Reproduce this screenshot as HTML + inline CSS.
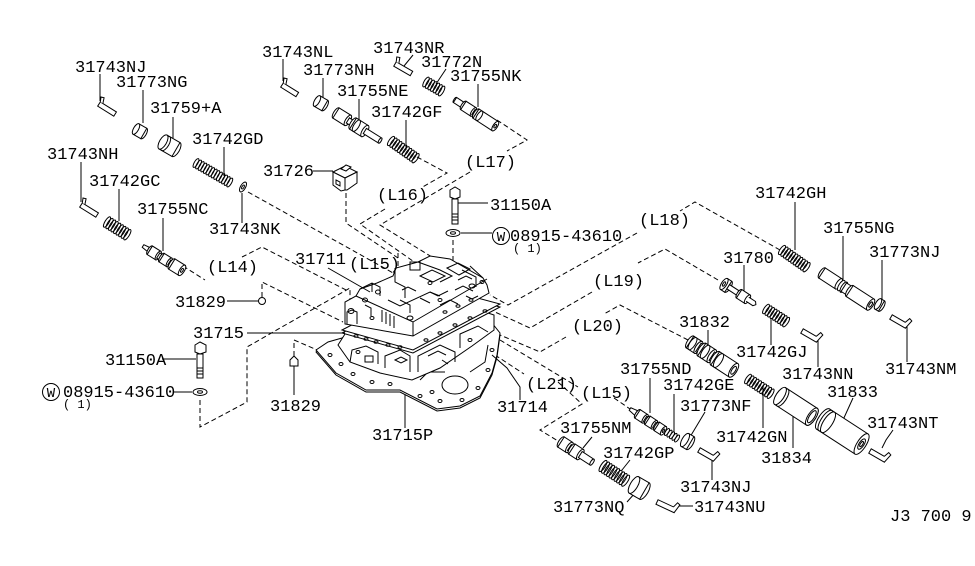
<!DOCTYPE html>
<html><head><meta charset="utf-8">
<style>
html,body{margin:0;padding:0;background:#fff;}
svg{display:block;}
text{font-family:"Liberation Mono","DejaVu Sans Mono",monospace;font-size:17px;fill:#000;}
.sm{font-size:12px;}
.p{fill:#fff;stroke:#000;stroke-width:1;}
.n{fill:none;stroke:#000;stroke-width:1;}
.d{fill:none;stroke:#000;stroke-width:1;stroke-dasharray:5 3;}
</style></head><body>
<svg width="975" height="566" viewBox="0 0 975 566" xmlns="http://www.w3.org/2000/svg">
<rect width="975" height="566" fill="#fff"/>

<!-- dashed routing lines -->
<g class="d">
<path d="M248,192 L395,274"/>
<path d="M183,266 L205,280 M242,257 L262,247 L348,291"/>
<path d="M262,297 V282 L343,322"/>
<path d="M200,400 V427 L247,402 V347 L350,288 V300"/>
<path d="M294,356 V340 L322,352"/>
<path d="M453,240 V296"/>
<path d="M346,193 V223 L398,258 M398,253 V278"/>
<path d="M417,157 L447,173 L421,188 M385,209 L360,224 L420,266"/>
<path d="M497,120 L527,140 L507,151 M470,172 L380,225 L440,262"/>
<path d="M780,250 L695,202 L680,211 M637,233 L508,305 L490,295"/>
<path d="M718,280 L665,249 L638,263 M592,292 L530,328 L495,312"/>
<path d="M688,340 L620,305 L604,314 M566,337 L540,352 L500,335"/>
<path d="M495,355 L524,374 M558,382 L582,404 L540,430 L558,441"/>
<path d="M500,340 L578,387 M614,398 L633,411"/>
</g>

<!-- valve body -->
<g class="p">
<polygon points="316,352 328,344 342,340 425,300 488,320 500,335 497,357 492,375 480,398 460,408 437,411 400,392 366,392 336,375"/>
<polygon points="316,350 328,342 342,338 425,298 488,318 500,333 497,355 492,373 480,396 460,406 437,409 400,390 366,390 336,373"/>
</g>
<g class="n">
<ellipse cx="455" cy="385" rx="13" ry="9"/>
<path d="M420,380 L428,372 L445,372 M470,372 L485,362 L488,345"/>
<ellipse cx="330" cy="355" rx="2" ry="1.5"/><ellipse cx="341" cy="364" rx="2" ry="1.5"/>
<ellipse cx="353" cy="374" rx="2" ry="1.5"/><ellipse cx="372" cy="382" rx="2" ry="1.5"/>
<ellipse cx="390" cy="384" rx="2" ry="1.5"/><ellipse cx="420" cy="396" rx="2" ry="1.5"/>
<ellipse cx="440" cy="401" rx="2" ry="1.5"/><ellipse cx="462" cy="400" rx="2" ry="1.5"/>
<ellipse cx="478" cy="388" rx="2" ry="1.5"/><ellipse cx="488" cy="370" rx="2" ry="1.5"/>
<ellipse cx="492" cy="350" rx="2" ry="1.5"/><ellipse cx="432" cy="392" rx="2" ry="1.5"/>
</g>
<g class="p">
<polygon points="338,345 345,334 428,293 494,315 494,330 472,346 440,368 412,380 380,373 350,362"/>
</g>
<g class="n">
<path d="M350,362 L352,350 L366,346 L378,352 L378,364"/>
<path d="M385,368 L385,356 L400,350 L410,356 L410,372"/>
<path d="M418,372 L418,356 L440,345 L455,352 L455,362"/>
<path d="M460,348 L460,334 L478,326 L488,332"/>
<path d="M365,356 h8 v6 h-8z M395,360 l6,-3 l6,3 l-6,3z M428,356 l10,-5 l8,4 M442,360 l6,4"/>
<ellipse cx="358" cy="352" rx="2" ry="1.5"/><ellipse cx="470" cy="340" rx="2" ry="1.5"/>
</g>
<g class="p">
<polygon points="342,333 429,288 500,307 413,353"/>
<polygon points="342,330 429,285 500,304 413,350"/>
</g>
<g class="n">
<ellipse cx="356" cy="336" rx="2" ry="1.3"/><ellipse cx="366" cy="339" rx="2" ry="1.3"/>
<ellipse cx="376" cy="342" rx="2" ry="1.3"/><ellipse cx="388" cy="345" rx="2" ry="1.3"/>
<ellipse cx="400" cy="347" rx="2" ry="1.3"/><ellipse cx="426" cy="340" rx="2" ry="1.3"/>
<ellipse cx="440" cy="333" rx="2" ry="1.3"/><ellipse cx="455" cy="325" rx="2" ry="1.3"/>
<ellipse cx="470" cy="318" rx="2" ry="1.3"/><ellipse cx="485" cy="311" rx="2" ry="1.3"/>
</g>
<g class="p">
<polygon points="345,324 345,302 356,296 360,289 377,283 393,276 396,268 418,262 430,256 450,259 483,278 487,285 489,293 413,336"/>
</g>
<g class="n">
<path d="M356,296 L413,322 L487,279 M413,322 V336"/>
<path d="M395,268 V282 L405,287 V298"/>
<path d="M420,276 L432,270 L445,276 L433,282 Z M447,268 L458,263 L470,269 L459,275 Z"/>
<path d="M382,310 v12 M386,312 v12 M390,314 v12 M394,316 v12"/>
<path d="M430,292 l8,4 l10,-5 M455,290 l8,-4 l10,5 M400,300 l10,5 l0,8"/>
<path d="M410,262 h10 v8 h-10z M458,280 l8,-4 l6,3"/>
<path d="M347,324 V312 L352,310 L357,312 V324"/>
<path d="M360,289 L372,283 L380,287 L380,296 M372,283 V292"/>
<path d="M388,300 L400,306 L430,292 L440,296"/>
<path d="M418,262 L440,270 L452,276 L440,282"/>
<path d="M462,270 L476,277 L476,287 M470,266 L483,278"/>
<path d="M420,298 L430,303 M440,305 L450,300 L458,304 M466,296 l6,3 l6,-3"/>
<path d="M365,305 l6,3 v8 M402,290 l6,-3 l8,4"/>
<ellipse cx="351" cy="311" rx="3" ry="2.5"/><ellipse cx="365" cy="300" rx="2.5" ry="2"/>
<ellipse cx="472" cy="286" rx="3" ry="2"/><ellipse cx="482" cy="282" rx="2" ry="1.5"/>
<ellipse cx="440" cy="300" rx="2" ry="1.5"/><ellipse cx="410" cy="318" rx="3" ry="2"/>
<ellipse cx="378" cy="292" rx="2.5" ry="2"/><ellipse cx="430" cy="283" rx="2" ry="1.5"/>
<ellipse cx="445" cy="312" rx="2" ry="1.3"/><ellipse cx="458" cy="306" rx="2" ry="1.3"/>
<ellipse cx="471" cy="300" rx="2" ry="1.3"/><ellipse cx="372" cy="318" rx="2" ry="1.5"/>
</g>

<!-- leaders -->
<g class="n">
<path d="M100,74 V101"/><path d="M143,90 V123"/><path d="M173,117 V138"/>
<path d="M224,147 V176"/><path d="M81,162 V202"/><path d="M119,189 V221"/>
<path d="M163,218 V251"/><path d="M242,193 V223"/><path d="M313,171 H333"/>
<path d="M283,59 V81"/><path d="M323,78 V100"/><path d="M413,55 L404,66"/>
<path d="M446,69 L436,84"/><path d="M478,84 V107"/><path d="M359,99 V125"/>
<path d="M406,120 V150"/><path d="M456,203 H488"/><path d="M461,233 H492"/>
<path d="M328,268 L370,292"/>
<path d="M795,202 V250"/><path d="M843,236 V283"/><path d="M882,260 V302"/>
<path d="M907,321 V362"/><path d="M744,265 V292"/><path d="M771,318 V345"/>
<path d="M818,336 V367"/><path d="M708,330 V350"/><path d="M650,378 V413"/>
<path d="M674,394 V432"/><path d="M705,412 L690,437"/><path d="M763,387 V428"/>
<path d="M793,415 V448"/><path d="M853,398 L843,420"/><path d="M893,430 L886,440 L882,448"/>
<path d="M712,455 V480"/><path d="M592,437 L583,448"/><path d="M630,460 L622,470"/>
<path d="M627,502 L635,493"/><path d="M677,506 H693"/>
<path d="M227,301 H258"/><path d="M247,333 H345"/><path d="M162,359 H196"/>
<path d="M173,392 H192"/><path d="M294,366 V395"/><path d="M405,395 V428"/>
<path d="M492,355 L507,368 L520,387 V400"/>
</g>

<!-- top-left parts -->
<g class="p" transform="translate(99,104) rotate(32)"><path d="M0,-2.5H19V2.5H0Z"/><path d="M3,-2.5 L1,-8 L-2,-7 L0,-2.5"/></g>
<g class="p" transform="translate(136,129) rotate(30)"><ellipse cx="9" rx="2.5" ry="6"/><rect x="0" y="-6" width="9" height="12"/><ellipse cx="0" rx="2.5" ry="6"/></g>
<g class="p" transform="translate(163,142) rotate(30)"><ellipse cx="15" rx="3.5" ry="8"/><rect x="0" y="-8" width="15" height="16"/><ellipse cx="3" rx="3.5" ry="8"/><ellipse cx="0" rx="3.5" ry="8"/></g>
<g class="n" transform="translate(196,163) rotate(30)">
<ellipse cx="0" rx="1.8" ry="5"/><ellipse cx="3" rx="1.8" ry="5"/><ellipse cx="6" rx="1.8" ry="5"/><ellipse cx="9" rx="1.8" ry="5"/><ellipse cx="12" rx="1.8" ry="5"/><ellipse cx="15" rx="1.8" ry="5"/><ellipse cx="18" rx="1.8" ry="5"/><ellipse cx="21" rx="1.8" ry="5"/><ellipse cx="24" rx="1.8" ry="5"/><ellipse cx="27" rx="1.8" ry="5"/><ellipse cx="30" rx="1.8" ry="5"/><ellipse cx="33" rx="1.8" ry="5"/><ellipse cx="36" rx="1.8" ry="5"/><ellipse cx="39" rx="1.8" ry="5"/></g>
<g class="p" transform="translate(243,187) rotate(30)"><ellipse rx="2.5" ry="5.5"/><ellipse rx="1" ry="2.2"/></g>
<g class="p" transform="translate(81,205) rotate(32)"><path d="M0,-2.5H19V2.5H0Z"/><path d="M3,-2.5 L1,-8 L-2,-7 L0,-2.5"/></g>
<g class="n" transform="translate(107,222) rotate(32)">
<ellipse cx="0" rx="2" ry="6"/><ellipse cx="3" rx="2" ry="6"/><ellipse cx="6" rx="2" ry="6"/><ellipse cx="9" rx="2" ry="6"/><ellipse cx="12" rx="2" ry="6"/><ellipse cx="15" rx="2" ry="6"/><ellipse cx="18" rx="2" ry="6"/><ellipse cx="21" rx="2" ry="6"/><ellipse cx="24" rx="2" ry="6"/></g>
<g class="p" transform="translate(143,246) rotate(32)">
<path d="M0,-1.5 L8,-2.5 V2.5 L0,1.5Z"/>
<ellipse cx="8" rx="2" ry="5"/><rect x="8" y="-5" width="10" height="10"/><ellipse cx="18" rx="2" ry="5"/>
<rect x="18" y="-3" width="4" height="6"/>
<ellipse cx="22" rx="2" ry="5"/><rect x="22" y="-5" width="9" height="10"/><ellipse cx="31" rx="2" ry="5"/>
<rect x="31" y="-3" width="3" height="6"/>
<ellipse cx="34" rx="2.4" ry="6"/><rect x="34" y="-6" width="12" height="12"/><ellipse cx="46" rx="2.4" ry="6"/><ellipse cx="46" rx="1" ry="2.2"/></g>

<!-- top-middle parts -->
<g class="p" transform="translate(282,85) rotate(32)"><path d="M0,-2.5H18V2.5H0Z"/><path d="M3,-2.5 L1,-8 L-2,-7 L0,-2.5"/></g>
<g class="p" transform="translate(317,101) rotate(30)"><ellipse cx="9" rx="2.5" ry="6"/><rect x="0" y="-6" width="9" height="12"/><ellipse cx="0" rx="2.5" ry="6"/></g>
<g class="p" transform="translate(336,113) rotate(32)">
<ellipse cx="0" rx="2.4" ry="6"/><rect x="0" y="-6" width="14" height="12"/><ellipse cx="14" rx="2.4" ry="6"/>
<rect x="14" y="-3" width="6" height="6"/>
<ellipse cx="20" rx="2.6" ry="6.5"/><rect x="20" y="-6.5" width="14" height="13"/><ellipse cx="24" rx="2.6" ry="6.5"/><ellipse cx="34" rx="2.6" ry="6.5"/>
<rect x="34" y="-3" width="18" height="6"/><ellipse cx="52" rx="1.2" ry="3"/></g>
<g class="n" transform="translate(391,141) rotate(35)">
<ellipse cx="0" rx="2" ry="5.5"/><ellipse cx="3" rx="2" ry="5.5"/><ellipse cx="6" rx="2" ry="5.5"/><ellipse cx="9" rx="2" ry="5.5"/><ellipse cx="12" rx="2" ry="5.5"/><ellipse cx="15" rx="2" ry="5.5"/><ellipse cx="18" rx="2" ry="5.5"/><ellipse cx="21" rx="2" ry="5.5"/><ellipse cx="24" rx="2" ry="5.5"/><ellipse cx="27" rx="2" ry="5.5"/><ellipse cx="30" rx="2" ry="5.5"/></g>
<g class="p" transform="translate(395,64) rotate(30)"><path d="M0,-2.5H19V2.5H0Z"/><path d="M3,-2.5 L1,-8 L-2,-7 L0,-2.5"/></g>
<g class="n" transform="translate(426,82) rotate(30)">
<ellipse cx="0" rx="2" ry="5.5"/><ellipse cx="3" rx="2" ry="5.5"/><ellipse cx="6" rx="2" ry="5.5"/><ellipse cx="9" rx="2" ry="5.5"/><ellipse cx="12" rx="2" ry="5.5"/><ellipse cx="15" rx="2" ry="5.5"/><ellipse cx="18" rx="2" ry="5.5"/></g>
<g class="p" transform="translate(455,100) rotate(33)">
<ellipse cx="0" rx="1.2" ry="3"/><rect x="0" y="-3" width="10" height="6"/>
<ellipse cx="10" rx="2" ry="5"/><rect x="10" y="-5" width="12" height="10"/><ellipse cx="22" rx="2" ry="5"/>
<rect x="22" y="-3" width="3" height="6"/>
<ellipse cx="25" rx="2.2" ry="5.5"/><rect x="25" y="-5.5" width="23" height="11"/><ellipse cx="29" rx="2.2" ry="5.5"/><ellipse cx="48" rx="2.2" ry="5.5"/><ellipse cx="48" rx="1" ry="2"/></g>
<g class="p">
<path d="M333,172 L345,166 L357,172 L345,178 Z"/>
<path d="M333,172 V185 L341,191 L345,190 V178 Z"/>
<path d="M345,178 L357,172 V183 L347,190 L345,190 Z"/>
<path d="M341,169 L346,165 L351,167 L346,171 Z"/>
<path d="M336,180 l4,2 v4 l-4,-2z"/>
</g>
<g class="p">
<path d="M450,190 L455,187 L460,190 V197 L455,199 L450,197 Z"/>
<rect x="452" y="199" width="6" height="25"/>
<path d="M452,214 h6 M452,217 h6 M452,220 h6" />
<ellipse cx="453" cy="233" rx="7" ry="3.5"/><ellipse cx="453" cy="233" rx="2.5" ry="1.2"/>
<circle cx="501" cy="236" r="8.5"/>
</g>

<!-- right parts -->
<g class="n" transform="translate(782,250) rotate(35)">
<ellipse cx="0" rx="2" ry="5.5"/><ellipse cx="3" rx="2" ry="5.5"/><ellipse cx="6" rx="2" ry="5.5"/><ellipse cx="9" rx="2" ry="5.5"/><ellipse cx="12" rx="2" ry="5.5"/><ellipse cx="15" rx="2" ry="5.5"/><ellipse cx="18" rx="2" ry="5.5"/><ellipse cx="21" rx="2" ry="5.5"/><ellipse cx="24" rx="2" ry="5.5"/><ellipse cx="27" rx="2" ry="5.5"/><ellipse cx="30" rx="2" ry="5.5"/></g>
<g class="p" transform="translate(822,273) rotate(33)">
<ellipse cx="0" rx="2.4" ry="6"/><rect x="0" y="-6" width="20" height="12"/><ellipse cx="20" rx="2.4" ry="6"/>
<ellipse cx="23" rx="2.4" ry="6"/><ellipse cx="26" rx="2.4" ry="6"/>
<rect x="26" y="-5" width="7" height="10"/>
<ellipse cx="33" rx="2.6" ry="6.5"/><rect x="33" y="-6.5" width="25" height="13"/><ellipse cx="58" rx="2.6" ry="6.5"/><ellipse cx="58" rx="1.2" ry="3"/></g>
<g class="p" transform="translate(878,304) rotate(30)"><ellipse cx="4" rx="2.5" ry="6"/><rect x="0" y="-6" width="4" height="12"/><ellipse cx="0" rx="2.5" ry="6"/></g>
<g class="p" transform="translate(891,317) rotate(30)"><path d="M0,-2.5H18V2.5H0Z"/><path d="M15,-2.5 L17,-8 L20,-7 L18,2.5"/></g>
<g class="p" transform="translate(724,284) rotate(33)">
<ellipse cx="5" rx="2.6" ry="6.5"/><rect x="0" y="-6.5" width="5" height="13"/><ellipse cx="0" rx="2.6" ry="6.5"/><ellipse cx="0" rx="1" ry="2.5"/>
<rect x="5" y="-2.5" width="13" height="5"/>
<ellipse cx="18" rx="2" ry="5"/><rect x="18" y="-5" width="10" height="10"/><ellipse cx="28" rx="2" ry="5"/>
<path d="M28,-2.5 L36,-2.5 L38,0 L36,2.5 L28,2.5"/></g>
<g class="n" transform="translate(766,309) rotate(33)">
<ellipse cx="0" rx="2" ry="5.5"/><ellipse cx="3" rx="2" ry="5.5"/><ellipse cx="6" rx="2" ry="5.5"/><ellipse cx="9" rx="2" ry="5.5"/><ellipse cx="12" rx="2" ry="5.5"/><ellipse cx="15" rx="2" ry="5.5"/><ellipse cx="18" rx="2" ry="5.5"/><ellipse cx="21" rx="2" ry="5.5"/><ellipse cx="24" rx="2" ry="5.5"/></g>
<g class="p" transform="translate(802,331) rotate(30)"><path d="M0,-2.5H18V2.5H0Z"/><path d="M15,-2.5 L17,-8 L20,-7 L18,2.5"/></g>
<g class="p" transform="translate(690,342) rotate(33)">
<ellipse cx="0" rx="2.8" ry="7"/><rect x="0" y="-7" width="10" height="14"/><ellipse cx="3" rx="2.8" ry="7"/><ellipse cx="10" rx="2.8" ry="7"/>
<rect x="10" y="-5" width="4" height="10"/>
<ellipse cx="14" rx="3" ry="7.5"/><rect x="14" y="-7.5" width="12" height="15"/><ellipse cx="18" rx="3" ry="7.5"/><ellipse cx="26" rx="3" ry="7.5"/>
<rect x="26" y="-5" width="4" height="10"/>
<ellipse cx="30" rx="3.2" ry="8"/><rect x="30" y="-8" width="22" height="16"/><ellipse cx="34" rx="3.2" ry="8"/><ellipse cx="52" rx="3.2" ry="8"/><ellipse cx="52" rx="1.8" ry="4.5"/></g>
<g class="p" transform="translate(630,409) rotate(33)">
<path d="M0,-1.5 L9,-3 V3 L0,1.5Z"/>
<ellipse cx="9" rx="2" ry="5"/><rect x="9" y="-5" width="9" height="10"/><ellipse cx="18" rx="2" ry="5"/>
<rect x="18" y="-3" width="3" height="6"/>
<ellipse cx="21" rx="2" ry="5"/><rect x="21" y="-5" width="8" height="10"/><ellipse cx="29" rx="2" ry="5"/>
<rect x="29" y="-3" width="3" height="6"/>
<ellipse cx="32" rx="2" ry="5"/><rect x="32" y="-5" width="8" height="10"/><ellipse cx="40" rx="2" ry="5"/><ellipse cx="40" rx="0.8" ry="2"/></g>
<g class="n" transform="translate(667,432) rotate(33)">
<ellipse cx="0" rx="1.6" ry="4"/><ellipse cx="3" rx="1.6" ry="4"/><ellipse cx="6" rx="1.6" ry="4"/><ellipse cx="9" rx="1.6" ry="4"/><ellipse cx="12" rx="1.6" ry="4"/></g>
<g class="p" transform="translate(685,440) rotate(30)"><ellipse cx="6" rx="3" ry="7.5"/><rect x="0" y="-7.5" width="6" height="15"/><ellipse cx="0" rx="3" ry="7.5"/></g>
<g class="p" transform="translate(699,450) rotate(30)"><path d="M0,-2.5H18V2.5H0Z"/><path d="M15,-2.5 L17,-8 L20,-7 L18,2.5"/></g>
<g class="n" transform="translate(748,379) rotate(33)">
<ellipse cx="0" rx="2" ry="5.5"/><ellipse cx="3" rx="2" ry="5.5"/><ellipse cx="6" rx="2" ry="5.5"/><ellipse cx="9" rx="2" ry="5.5"/><ellipse cx="12" rx="2" ry="5.5"/><ellipse cx="15" rx="2" ry="5.5"/><ellipse cx="18" rx="2" ry="5.5"/><ellipse cx="21" rx="2" ry="5.5"/><ellipse cx="24" rx="2" ry="5.5"/><ellipse cx="27" rx="2" ry="5.5"/></g>
<g class="p" transform="translate(780,396) rotate(33)">
<ellipse cx="38" rx="4" ry="10"/><rect x="0" y="-10" width="38" height="20"/><ellipse cx="3" rx="4" ry="10"/><ellipse cx="0" rx="4" ry="10"/>
<ellipse cx="38" rx="4" ry="10"/><ellipse cx="38" rx="2.5" ry="7"/></g>
<g class="p" transform="translate(823,419) rotate(33)">
<rect x="0" y="-12" width="46" height="24"/><ellipse cx="0" rx="4.5" ry="12"/><ellipse cx="3" rx="4.5" ry="12"/><ellipse cx="6" rx="4.5" ry="12"/>
<ellipse cx="46" rx="4.5" ry="12"/><ellipse cx="46" rx="2.5" ry="6"/><ellipse cx="46" rx="1.2" ry="3"/></g>
<g class="p" transform="translate(870,451) rotate(30)"><path d="M0,-2.5H18V2.5H0Z"/><path d="M15,-2.5 L17,-8 L20,-7 L18,2.5"/></g>
<g class="p" transform="translate(561,442) rotate(33)">
<ellipse cx="0" rx="2.4" ry="6"/><rect x="0" y="-6" width="10" height="12"/><ellipse cx="10" rx="2.4" ry="6"/>
<rect x="10" y="-3.5" width="3" height="7"/>
<ellipse cx="13" rx="2.4" ry="6"/><rect x="13" y="-6" width="10" height="12"/><ellipse cx="23" rx="2.4" ry="6"/>
<rect x="23" y="-3.5" width="14" height="7"/><ellipse cx="37" rx="1.4" ry="3.5"/></g>
<g class="n" transform="translate(603,466) rotate(33)">
<ellipse cx="0" rx="2.2" ry="6.5"/><ellipse cx="3" rx="2.2" ry="6.5"/><ellipse cx="6" rx="2.2" ry="6.5"/><ellipse cx="9" rx="2.2" ry="6.5"/><ellipse cx="12" rx="2.2" ry="6.5"/><ellipse cx="15" rx="2.2" ry="6.5"/><ellipse cx="18" rx="2.2" ry="6.5"/><ellipse cx="21" rx="2.2" ry="6.5"/><ellipse cx="24" rx="2.2" ry="6.5"/><ellipse cx="27" rx="2.2" ry="6.5"/></g>
<g class="p" transform="translate(634,485) rotate(30)"><ellipse cx="12" rx="3.8" ry="9.5"/><rect x="0" y="-9.5" width="12" height="19"/><ellipse cx="0" rx="3.8" ry="9.5"/></g>
<g class="p" transform="translate(657,502) rotate(25)"><path d="M0,-2.5H20V2.5H0Z"/><path d="M17,-2.5 L19,-8 L22,-7 L20,2.5"/></g>

<!-- left-bottom parts -->
<g class="p">
<circle cx="262" cy="301" r="3.5"/>
<path d="M290,360 L294,356 L298,360 V366 H290 Z"/>
<path d="M195,345 L200,342 L206,345 V352 L200,354 L195,352 Z"/>
<rect x="197" y="354" width="6" height="24"/>
<path d="M197,368 h6 M197,371 h6 M197,374 h6"/>
<ellipse cx="200" cy="392" rx="7" ry="3.5"/><ellipse cx="200" cy="392" rx="2.5" ry="1.2"/>
<circle cx="51" cy="392" r="8.5"/>
</g>

<!-- labels -->
<g>
<text x="75" y="72">31743NJ</text>
<text x="116" y="87">31773NG</text>
<text x="150" y="113">31759+A</text>
<text x="192" y="144">31742GD</text>
<text x="47" y="159">31743NH</text>
<text x="89" y="186">31742GC</text>
<text x="137" y="214">31755NC</text>
<text x="209" y="234">31743NK</text>
<text x="263" y="176">31726</text>
<text x="262" y="57">31743NL</text>
<text x="303" y="75">31773NH</text>
<text x="373" y="53">31743NR</text>
<text x="421" y="67">31772N</text>
<text x="450" y="81">31755NK</text>
<text x="337" y="96">31755NE</text>
<text x="371" y="117">31742GF</text>
<text x="465" y="167">(L17)</text>
<text x="377" y="200">(L16)</text>
<text x="490" y="210">31150A</text>
<text x="501" y="241" text-anchor="middle" style="font-size:14px">W</text>
<text x="510" y="241">08915-43610</text>
<text x="513" y="252" class="sm">( 1)</text>
<text x="295" y="264">31711</text>
<text x="349" y="269">(L15)</text>
<text x="207" y="272">(L14)</text>
<text x="755" y="198">31742GH</text>
<text x="639" y="225">(L18)</text>
<text x="823" y="233">31755NG</text>
<text x="869" y="257">31773NJ</text>
<text x="723" y="263">31780</text>
<text x="593" y="286">(L19)</text>
<text x="679" y="327">31832</text>
<text x="572" y="331">(L20)</text>
<text x="736" y="357">31742GJ</text>
<text x="782" y="379">31743NN</text>
<text x="885" y="374">31743NM</text>
<text x="620" y="374">31755ND</text>
<text x="663" y="390">31742GE</text>
<text x="827" y="397">31833</text>
<text x="526" y="389">(L21)</text>
<text x="581" y="398">(L15)</text>
<text x="497" y="412">31714</text>
<text x="680" y="411">31773NF</text>
<text x="867" y="428">31743NT</text>
<text x="560" y="433">31755NM</text>
<text x="716" y="442">31742GN</text>
<text x="603" y="458">31742GP</text>
<text x="761" y="463">31834</text>
<text x="680" y="492">31743NJ</text>
<text x="553" y="512">31773NQ</text>
<text x="694" y="512">31743NU</text>
<text x="890" y="521">J3 700 9</text>
<text x="175" y="307">31829</text>
<text x="193" y="338">31715</text>
<text x="105" y="365">31150A</text>
<text x="51" y="397" text-anchor="middle" style="font-size:14px">W</text>
<text x="63" y="397">08915-43610</text>
<text x="63" y="408" class="sm">( 1)</text>
<text x="270" y="411">31829</text>
<text x="372" y="440">31715P</text>
</g>
</svg>
</body></html>
